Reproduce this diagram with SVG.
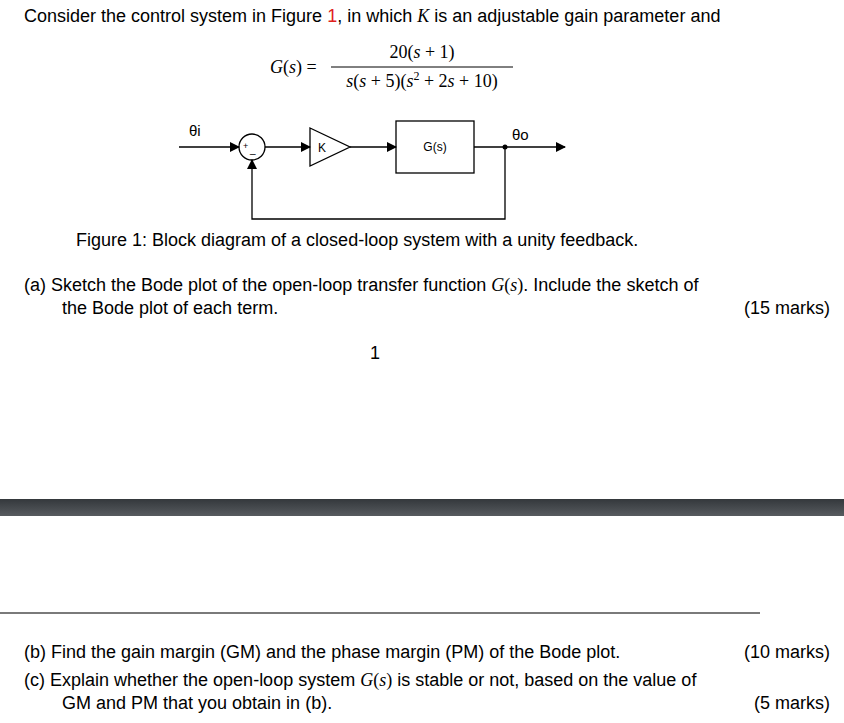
<svg xmlns="http://www.w3.org/2000/svg" width="844" height="723" viewBox="0 0 844 723">
<defs>
<style>
.t{font-family:"Liberation Sans",Arial,sans-serif;font-size:18px;fill:#000}
.m{font-family:"Liberation Serif","Times New Roman",serif;font-size:18px;fill:#000}
.s{font-family:"Liberation Sans",Arial,sans-serif;fill:#000}
.ln{stroke:#000;stroke-width:1.3;fill:none}
</style>
<marker id="a" markerWidth="10" markerHeight="10" refX="9" refY="5" orient="auto" markerUnits="userSpaceOnUse"><path d="M0,0 L10,5 L0,10Z" fill="#000"/></marker>
<linearGradient id="g" x1="0" y1="0" x2="0" y2="1"><stop offset="0" stop-color="#34383c"/><stop offset="1" stop-color="#575b5f"/></linearGradient>
</defs>
<rect width="844" height="723" fill="#fff"/>
<text class="t" x="24" y="22">Consider the control system in Figure <tspan fill="#e0201c">1</tspan>, in which <tspan class="m" font-style="italic">K</tspan> is an adjustable gain parameter and</text>
<text class="m" x="270" y="73"><tspan font-style="italic">G</tspan>(<tspan font-style="italic">s</tspan>) =</text>
<text class="m" x="422" y="58" text-anchor="middle">20(<tspan font-style="italic">s</tspan> + 1)</text>
<line x1="331" y1="67" x2="513" y2="67" stroke="#000" stroke-width="1"/>
<text class="m" x="422" y="87" text-anchor="middle"><tspan font-style="italic">s</tspan>(<tspan font-style="italic">s</tspan> + 5)(<tspan font-style="italic">s</tspan><tspan font-size="12" dy="-7">2</tspan><tspan dy="7"> + 2</tspan><tspan font-style="italic">s</tspan> + 10)</text>
<g id="connectors">
<line class="ln" x1="179" y1="147" x2="239" y2="147" marker-end="url(#a)"/>
<line class="ln" x1="265" y1="147" x2="310" y2="147" marker-end="url(#a)"/>
<line class="ln" x1="350" y1="147" x2="396" y2="147" marker-end="url(#a)"/>
<line class="ln" x1="474" y1="147" x2="565" y2="147" marker-end="url(#a)"/>
<polyline class="ln" points="505,147 505,219 252,219 252,160" marker-end="url(#a)"/>
<circle cx="505" cy="147" r="2.5" fill="#000"/>
</g>
<g id="sum"><circle class="ln" cx="252" cy="147" r="13"/><text class="s" font-size="9" x="243" y="149">+</text><text class="s" font-size="10" x="250" y="153">_</text></g>
<g id="gain"><path class="ln" d="M310,128 L350,147 L310,166Z"/><text class="s" font-size="12" x="318" y="152">K</text></g>
<g id="plant"><rect class="ln" x="396" y="121" width="78" height="52"/><text class="s" font-size="12" x="435" y="151" text-anchor="middle">G(s)</text></g>
<text class="s" font-size="15" x="189" y="136">θi</text>
<text class="s" font-size="15" x="512" y="140">θo</text>
<text class="t" x="76" y="246">Figure 1: Block diagram of a closed-loop system with a unity feedback.</text>
<text class="t" x="24" y="291">(a) Sketch the Bode plot of the open-loop transfer function <tspan class="m" font-style="italic">G</tspan><tspan class="m">(</tspan><tspan class="m" font-style="italic">s</tspan><tspan class="m">)</tspan>. Include the sketch of</text>
<text class="t" x="62" y="314">the Bode plot of each term.</text>
<text class="t" x="830" y="314" text-anchor="end">(15 marks)</text>
<text class="t" x="370" y="359">1</text>
<rect x="0" y="499" width="844" height="17" fill="url(#g)"/>
<rect x="0" y="612" width="760" height="2" fill="#7a7a7a"/>
<text class="t" x="24" y="658">(b) Find the gain margin (GM) and the phase margin (PM) of the Bode plot.</text>
<text class="t" x="830" y="658" text-anchor="end">(10 marks)</text>
<text class="t" x="24" y="686">(c) Explain whether the open-loop system <tspan class="m" font-style="italic">G</tspan><tspan class="m">(</tspan><tspan class="m" font-style="italic">s</tspan><tspan class="m">)</tspan> is stable or not, based on the value of</text>
<text class="t" x="62" y="709">GM and PM that you obtain in (b).</text>
<text class="t" x="830" y="709" text-anchor="end">(5 marks)</text>
</svg>
